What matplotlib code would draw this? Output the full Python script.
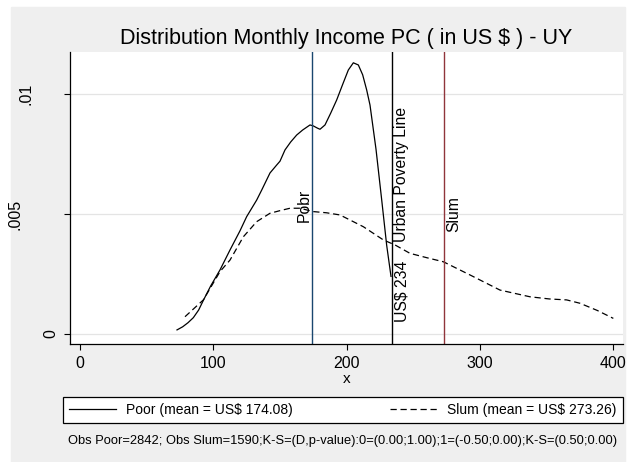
import matplotlib
matplotlib.use("Agg")
import matplotlib.pyplot as plt
from matplotlib.patches import Rectangle
from matplotlib.lines import Line2D
from matplotlib.transforms import offset_copy

plt.rcParams['font.family'] = ['Liberation Sans', 'DejaVu Sans']

# densidad ingreso per capita - pobres
poor_x = [72.75, 77, 81, 85, 89, 92.5, 98, 105, 112.5, 120, 125, 132.5, 136.3, 142.5,
          147.5, 150, 153.75, 158, 162.5, 167, 172.5, 175, 178, 180, 183.75, 188,
          192.5, 197, 201.25, 205, 208.75, 212, 215, 217.5, 222, 226.25, 230, 233.25]
poor_y = [0.00017, 0.0003, 0.00047, 0.00068, 0.001, 0.0014, 0.002, 0.00267, 0.0035,
          0.0043, 0.00489, 0.00558, 0.0060, 0.00671, 0.00704, 0.0072, 0.00767, 0.0080,
          0.00829, 0.0085, 0.00871, 0.00867, 0.00858, 0.00853, 0.00871, 0.0092,
          0.00975, 0.0104, 0.0110, 0.0113, 0.01121, 0.0108, 0.01017, 0.00954,
          0.0077, 0.0056, 0.0037, 0.0024]

# densidad - asentamientos
slum_x = [78.75, 92.5, 105, 112.5, 122.5, 132.5, 142.5, 150, 157.5, 165, 175,
          185, 195, 212.5, 227.5, 236.25, 247.5, 260, 272.5, 292.5, 315, 337.5,
          352, 365, 375, 388, 400]
slum_y = [0.00072, 0.00142, 0.0026, 0.00308, 0.00405, 0.00468, 0.00503, 0.00514,
          0.00524, 0.00524, 0.0051, 0.00505, 0.00496, 0.00447, 0.00392, 0.00371,
          0.00336, 0.00318, 0.00301, 0.00246, 0.00183, 0.00155, 0.00146, 0.00142,
          0.00128, 0.00098, 0.00065]

mean_poor = 174.08
mean_slum = 273.26
poverty_line = 234

xticks = [0, 100, 200, 300, 400]
yticks = [0, 0.005, 0.01]
ytick_labels = ['0', '.005', '.01']
ytick_pads = [4.3, 30, 22]   # stata pone las etiquetas en distinto lugar

fig = plt.figure(figsize=(6.29, 4.62), dpi=100)
fig.patches.append(Rectangle((11 / 629, 0), 614 / 629, 455 / 462,
                             transform=fig.transFigure, color='#efefef', zorder=-1))

ax = fig.add_axes([70 / 629, 1 - 344 / 462, 553 / 629, 292 / 462])
ax.set_facecolor('white')

ax.plot(poor_x, poor_y, color='black', lw=0.9)
ax.plot(slum_x, slum_y, color='black', lw=0.9, linestyle=(0, (5, 3)))

ax.axvline(mean_poor, color='#1a476f', lw=1)
ax.axvline(poverty_line, color='black', lw=1)
ax.axvline(mean_slum, color='#90353b', lw=1)

tr_l = offset_copy(ax.transData, fig=fig, x=1.5, y=0, units='points')
tr_r = offset_copy(ax.transData, fig=fig, x=0, y=0, units='points')
ax.text(mean_poor, 0.00465, 'Pobr', rotation=90, ha='right', va='bottom',
        fontsize=11.3, transform=tr_r)
ax.text(poverty_line, 0.00385, 'Urban Poverty Line', rotation=90, ha='left',
        va='bottom', fontsize=11.3, transform=tr_l)
ax.text(poverty_line, 0.00051, 'US$ 234', rotation=90, ha='left',
        va='bottom', fontsize=11.3, transform=tr_l)
ax.text(mean_slum, 0.00426, 'Slum', rotation=90, ha='left', va='bottom',
        fontsize=11.3, transform=tr_l)

ax.set_xlim(-7.5, 407.25)
ax.set_ylim(-0.000417, 0.01175)
ax.set_xticks(xticks)
ax.set_yticks(yticks, ytick_labels, rotation=90, va='center')
ax.tick_params(axis='both', direction='out', length=4.3, width=0.8,
               labelsize=11.5, color='black')
ax.tick_params(axis='x', pad=4)
for t, p in zip(ax.yaxis.get_major_ticks(), ytick_pads):
    t.set_pad(p)
ax.grid(axis='y', color='#e4e4e4', lw=0.9)
ax.set_axisbelow(True)
for s in ['top', 'right']:
    ax.spines[s].set_visible(False)
for s in ['left', 'bottom']:
    ax.spines[s].set_linewidth(0.9)

ax.set_xlabel('x', fontsize=11, labelpad=1)
ax.set_title('Distribution Monthly Income PC ( in US $ ) - UY', fontsize=15.5, pad=5.5)

handles = [Line2D([], [], color='black', lw=0.9),
           Line2D([], [], color='black', lw=0.9, linestyle=(0, (5, 3)))]
labels = ['Poor (mean = US$ %.2f)' % mean_poor, 'Slum (mean = US$ %.2f)' % mean_slum]
leg = fig.legend(handles, labels, loc='center', ncol=2, mode='expand',
                 bbox_to_anchor=(63 / 629, 37 / 462, 560 / 629, 30 / 462),
                 fontsize=10, frameon=True, fancybox=False, edgecolor='black',
                 facecolor='white', framealpha=1, handlelength=3.4,
                 handletextpad=0.7, borderpad=0.45, borderaxespad=0)
leg.get_frame().set_linewidth(0.9)

fig.text(343 / 629, 1 - 441 / 462,
         'Obs Poor=2842; Obs Slum=1590;K-S=(D,p-value):0=(0.00;1.00);'
         '1=(-0.50;0.00);K-S=(0.50;0.00)', ha='center', va='center', fontsize=9.3)

fig.savefig('out.png', dpi=100)
